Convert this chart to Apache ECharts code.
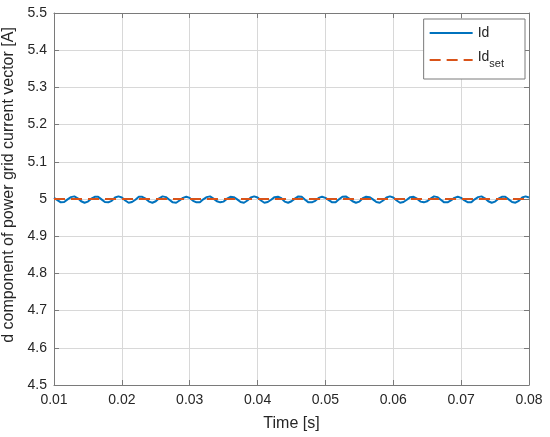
<!DOCTYPE html>
<html><head><meta charset="utf-8">
<script src="https://cdn.jsdelivr.net/npm/echarts@6/dist/echarts.min.js"></script>
<style>html,body{margin:0;padding:0;background:#fff}#c{width:550px;height:437px}</style>
</head><body><div id="c"></div>
<script>
const tStart = 0.01;
const sampleStep = 0.0005;
const idValues = [
5.003,4.997,4.991,4.992,4.999,5.005,5.007,5.002,4.994,4.990,4.993,5.001,5.006,5.006,4.999,4.992,4.991,4.995,5.004,5.007,
5.004,4.996,4.990,4.992,4.998,5.006,5.006,5.001,4.993,4.990,4.994,5.002,5.007,5.005,4.998,4.991,4.990,4.996,5.003,5.006,
5.003,4.995,4.991,4.991,4.999,5.005,5.007,5.001,4.994,4.991,4.993,5.001,5.006,5.005,4.999,4.992,4.990,4.996,5.004,5.007,
5.004,4.996,4.990,4.992,4.998,5.005,5.006,5.002,4.993,4.990,4.994,5.001,5.007,5.006,4.998,4.991,4.991,4.995,5.003,5.006,
5.003,4.997,4.991,4.991,4.999,5.006,5.007,5.001,4.994,4.990,4.993,5.002,5.006,5.005,4.999,4.992,4.990,4.996,5.004,5.007,
5.004,4.996,4.990,4.992,4.998,5.005,5.006,5.001,4.993,4.991,4.994,5.001,5.007,5.005,4.998,4.991,4.991,4.996,5.003,5.006,
5.003,4.996,4.991,4.991,4.999,5.005,5.007,5.002,4.994,4.990,4.993,5.001,5.006,5.006,4.999,4.992,4.990,4.995,5.004,5.007,
5.004];
const idSetTimes = [0.01, 0.08];
const idSetValues = [5, 5];
const xTicks = [0.01,0.02,0.03,0.04,0.05,0.06,0.07,0.08];
const yTicks = [4.5,4.6,4.7,4.8,4.9,5,5.1,5.2,5.3,5.4,5.5];

const idData = idValues.map((v,i)=>[+(tStart + i*sampleStep).toFixed(5), v]);
const idSetData = idSetTimes.map((t,i)=>[t, idSetValues[i]]);

const font = 'Liberation Sans, Arial, Helvetica, sans-serif';
const axisCol = '#7a7a7a';
const gridCol = '#d8d8d8';
const txtCol = '#262626';
const chart = echarts.init(document.getElementById('c'), null, {renderer:'canvas'});
const baseX = {
  type:'value', min:0.01, max:0.08, interval:0.01,
  axisLine:{show:true, onZero:false, lineStyle:{color:axisCol, width:1}},
  axisTick:{show:true, inside:true, length:5, lineStyle:{color:axisCol}},
  splitLine:{show:false}
};
const baseY = {
  type:'value', min:4.5, max:5.5, interval:0.1,
  axisLine:{show:true, onZero:false, lineStyle:{color:axisCol, width:1}},
  axisTick:{show:true, inside:true, length:5, lineStyle:{color:axisCol}},
  splitLine:{show:false}
};
chart.setOption({
  animation:false,
  backgroundColor:'#fff',
  grid:{left:54, right:21, top:13, bottom:52, containLabel:false, outerBoundsMode:'none'},
  legend:{
    right:25, top:19, orient:'vertical',
    backgroundColor:'#fff', borderColor:axisCol, borderWidth:1,
    padding:[7,21,9,5], itemGap:10, itemWidth:43, itemHeight:14,
    itemStyle:{opacity:0},
    textStyle:{fontFamily:font, fontSize:14, color:txtCol,
      rich:{
        r:{fontFamily:font, fontSize:14, color:txtCol, lineHeight:16},
        m:{fontFamily:font, fontSize:14, color:txtCol, lineHeight:16, padding:[0,0,6,0]},
        s:{fontFamily:font, fontSize:11, color:txtCol, lineHeight:13, padding:[8,0,0,0]}}},
    formatter: n => n === 'Idset' ? '{m|Id}{s|set}' : '{r|Id}',
    data:[{name:'Id'},{name:'Idset'}]
  },
  xAxis:[
    Object.assign({}, baseX, {position:'bottom',
      name:'Time [s]', nameLocation:'middle', nameGap:31,
      nameTextStyle:{fontFamily:font, fontSize:16, color:txtCol},
      axisLabel:{fontFamily:font, fontSize:14, color:txtCol, margin:8, formatter:v=>xTicks.includes(+v.toFixed(2))? v.toFixed(2):''},
      splitLine:{show:true, lineStyle:{color:gridCol, width:1}}}),
    Object.assign({}, baseX, {position:'top', axisLabel:{show:false}})
  ],
  yAxis:[
    Object.assign({}, baseY, {position:'left',
      name:'d component of power grid current vector [A]', nameLocation:'middle', nameGap:32,
      nameTextStyle:{fontFamily:font, fontSize:16, color:txtCol, padding:[0,0,0,28]},
      axisLabel:{fontFamily:font, fontSize:14, color:txtCol, margin:7, formatter:v=>{const r=+v.toFixed(1); return yTicks.includes(r)? String(r):'';}},
      splitLine:{show:true, lineStyle:{color:gridCol, width:1}}}),
    Object.assign({}, baseY, {position:'right', axisLabel:{show:false}})
  ],
  series:[
    {name:'Id', type:'line', data:idData, showSymbol:false, symbol:'none',
     lineStyle:{color:'#0072BD', width:2}, itemStyle:{color:'#0072BD'}, z:2},
    {name:'Idset', type:'line', data:idSetData, showSymbol:false, symbol:'none',
     lineStyle:{color:'#D95319', width:2, type:[11,6]}, itemStyle:{color:'#D95319'}, z:3}
  ]
});
</script></body></html>
